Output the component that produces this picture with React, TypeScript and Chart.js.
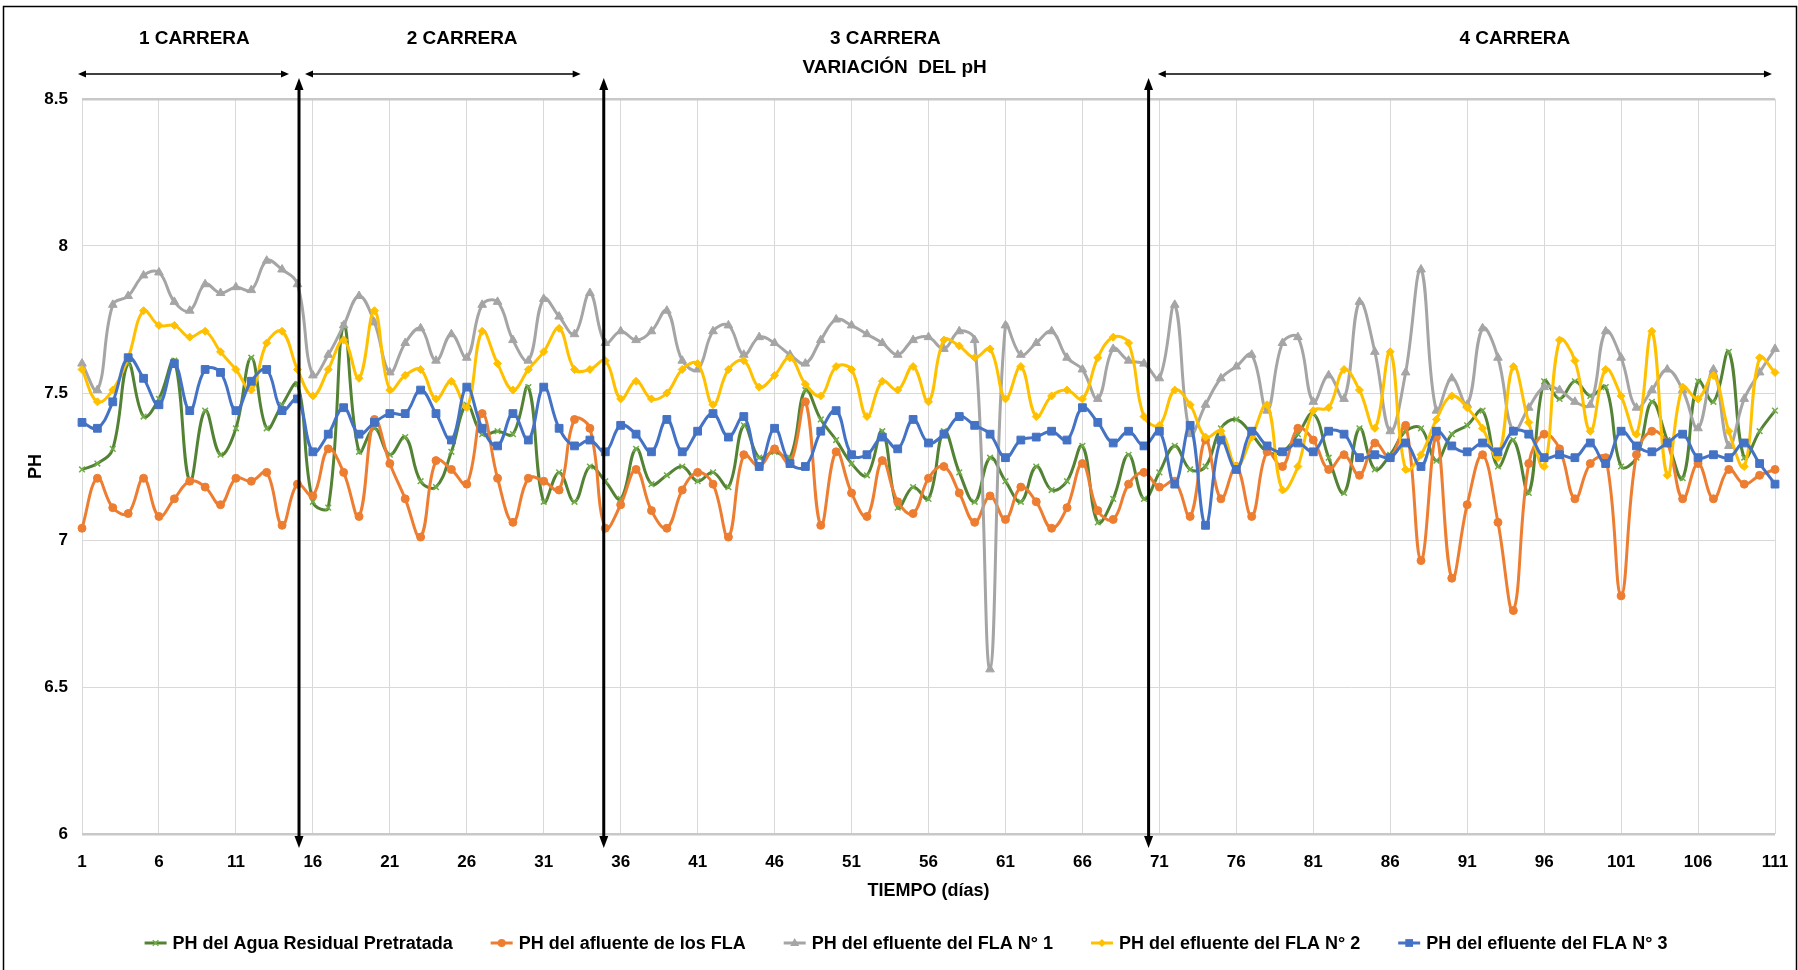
import React, { useEffect, useRef } from "react";
import { Chart, registerables } from "chart.js";

Chart.register(...registerables);

// ---------- DATA ----------
const days: string[] = Array.from({ length: 111 }, (_, i) => String(i + 1));

const phAguaResidual = [
  7.24, 7.26, 7.31, 7.6, 7.42, 7.48, 7.61, 7.2, 7.44, 7.29,
  7.38, 7.62, 7.38, 7.46, 7.53, 7.13, 7.11, 7.73, 7.3, 7.38,
  7.29, 7.35, 7.2, 7.18, 7.3, 7.46, 7.36, 7.37, 7.36, 7.52,
  7.13, 7.23, 7.13, 7.25, 7.2, 7.14, 7.31, 7.19, 7.22, 7.25,
  7.2, 7.23, 7.18, 7.39, 7.28, 7.3, 7.28, 7.51, 7.41, 7.34,
  7.26, 7.22, 7.37, 7.11, 7.18, 7.14, 7.37, 7.23, 7.13, 7.28,
  7.2, 7.13, 7.25, 7.17, 7.2, 7.32, 7.06, 7.14, 7.29, 7.14,
  7.23, 7.32, 7.24, 7.25, 7.38, 7.41, 7.36, 7.3, 7.3, 7.36,
  7.43, 7.28, 7.16, 7.38, 7.24, 7.29, 7.37, 7.38, 7.27, 7.36,
  7.39, 7.44, 7.25, 7.34, 7.16, 7.54, 7.48, 7.54, 7.49, 7.52,
  7.25, 7.28, 7.47, 7.34, 7.21, 7.54, 7.47, 7.64, 7.28, 7.37,
  7.44,
];

const phAfluente = [
  7.04, 7.21, 7.11, 7.09, 7.21, 7.08, 7.14, 7.2, 7.18, 7.12,
  7.21, 7.2, 7.23, 7.05, 7.19, 7.15, 7.31, 7.23, 7.08, 7.41,
  7.26, 7.14, 7.01, 7.27, 7.24, 7.19, 7.43, 7.21, 7.06, 7.21,
  7.2, 7.17, 7.41, 7.38, 7.04, 7.12, 7.24, 7.1, 7.04, 7.17,
  7.23, 7.19, 7.01, 7.29, 7.25, 7.31, 7.26, 7.47, 7.05, 7.3,
  7.16, 7.08, 7.27, 7.13, 7.09, 7.21, 7.25, 7.16, 7.06, 7.15,
  7.07, 7.18, 7.13, 7.04, 7.11, 7.26, 7.1, 7.07, 7.19, 7.23,
  7.18, 7.2, 7.08, 7.34, 7.14, 7.25, 7.08, 7.3, 7.25, 7.38,
  7.34, 7.24, 7.29, 7.22, 7.33, 7.28, 7.39, 6.93, 7.35, 6.87,
  7.12, 7.29, 7.06, 6.76, 7.26, 7.36, 7.31, 7.14, 7.26, 7.28,
  6.81, 7.29, 7.37, 7.33, 7.14, 7.26, 7.14, 7.24, 7.19, 7.22,
  7.24,
];

const phEfluente1 = [
  7.6, 7.51, 7.8, 7.83, 7.9, 7.91, 7.81, 7.78, 7.87, 7.84,
  7.86, 7.85, 7.95, 7.92, 7.87, 7.56, 7.63, 7.73, 7.83, 7.74,
  7.57, 7.67, 7.72, 7.61, 7.7, 7.62, 7.8, 7.81, 7.68, 7.61,
  7.82, 7.76, 7.7, 7.84, 7.67, 7.71, 7.68, 7.71, 7.78, 7.61,
  7.58, 7.71, 7.73, 7.63, 7.69, 7.67, 7.63, 7.6, 7.68, 7.75,
  7.73, 7.7, 7.67, 7.63, 7.68, 7.69, 7.65, 7.71, 7.68, 6.56,
  7.73, 7.63, 7.67, 7.71, 7.62, 7.58, 7.48, 7.65, 7.61, 7.6,
  7.55, 7.8, 7.36, 7.46, 7.55, 7.59, 7.63, 7.44, 7.67, 7.69,
  7.47, 7.56, 7.48, 7.81, 7.64, 7.37, 7.57, 7.92, 7.44, 7.55,
  7.46, 7.72, 7.62, 7.37, 7.45, 7.52, 7.51, 7.47, 7.46, 7.71,
  7.62, 7.45, 7.51, 7.58, 7.51, 7.38, 7.58, 7.32, 7.48, 7.57,
  7.65,
];

const phEfluente2 = [
  7.58, 7.47, 7.51, 7.62, 7.78, 7.73, 7.73, 7.69, 7.71, 7.64,
  7.58, 7.51, 7.67, 7.71, 7.58, 7.49, 7.58, 7.68, 7.55, 7.78,
  7.51, 7.56, 7.58, 7.48, 7.54, 7.45, 7.71, 7.6, 7.51, 7.58,
  7.64, 7.72, 7.58, 7.58, 7.61, 7.48, 7.54, 7.48, 7.5, 7.58,
  7.6, 7.46, 7.58, 7.61, 7.52, 7.56, 7.62, 7.53, 7.49, 7.59,
  7.58, 7.42, 7.54, 7.51, 7.59, 7.47, 7.68, 7.66, 7.62, 7.65,
  7.48, 7.59, 7.42, 7.49, 7.51, 7.48, 7.62, 7.69, 7.67, 7.42,
  7.39, 7.51, 7.46, 7.35, 7.37, 7.25, 7.35, 7.46, 7.17, 7.25,
  7.44, 7.45, 7.58, 7.51, 7.38, 7.64, 7.24, 7.29, 7.41, 7.49,
  7.45, 7.38, 7.28, 7.59, 7.4, 7.25, 7.68, 7.61, 7.37, 7.58,
  7.49, 7.36, 7.71, 7.22, 7.52, 7.48, 7.56, 7.37, 7.25, 7.62,
  7.57,
];

const phEfluente3 = [
  7.4, 7.38, 7.47, 7.62, 7.55, 7.46, 7.6, 7.44, 7.58, 7.57,
  7.44, 7.54, 7.58, 7.44, 7.48, 7.3, 7.36, 7.45, 7.36, 7.4,
  7.43, 7.43, 7.51, 7.43, 7.34, 7.52, 7.38, 7.32, 7.43, 7.34,
  7.52, 7.38, 7.32, 7.34, 7.3, 7.39, 7.36, 7.3, 7.41, 7.3,
  7.37, 7.43, 7.35, 7.42, 7.25, 7.38, 7.26, 7.25, 7.37, 7.44,
  7.29, 7.29, 7.35, 7.31, 7.41, 7.33, 7.36, 7.42, 7.39, 7.36,
  7.28, 7.34, 7.35, 7.37, 7.34, 7.45, 7.4, 7.33, 7.37, 7.32,
  7.37, 7.19, 7.39, 7.05, 7.34, 7.24, 7.37, 7.32, 7.3, 7.33,
  7.3, 7.37, 7.36, 7.28, 7.29, 7.28, 7.33, 7.25, 7.37, 7.32,
  7.3, 7.33, 7.3, 7.37, 7.36, 7.28, 7.29, 7.28, 7.33, 7.26,
  7.37, 7.32, 7.3, 7.33, 7.36, 7.28, 7.29, 7.28, 7.33, 7.26,
  7.19,
];

const seriesNames = [
  "PH del Agua Residual Pretratada",
  "PH del afluente de los FLA",
  "PH del efluente del FLA N° 1",
  "PH del efluente del FLA N° 2",
  "PH del efluente del FLA N° 3",
];

const yTickValues = [6, 6.5, 7, 7.5, 8, 8.5];
const xLabelEvery = 5;

const phaseLabels = ["1 CARRERA", "2 CARRERA", "3 CARRERA", "4 CARRERA"];
const phaseLabelDays = [8.3, 25.7, 53.2, 94.1];
const phaseBoundaryDays = [15.1, 34.9, 70.3];
const phaseSpanDays = [
  [0.74, 14.45],
  [15.49, 33.4],
  [70.9, 110.8],
];
const chartTitle = "VARIACIÓN  DEL pH";
const chartTitleDay = 53.8;
const xTitle = "TIEMPO (días)";
const yTitle = "PH";

// ---------- STYLE ----------
const FONT = "'Liberation Sans Narrow', 'Arial Narrow', 'Liberation Sans', Arial, sans-serif";

const seriesStyles = [
  { line: "#548235", point: "#70AD47", shape: "crossRot", r: 4, pbw: 1.5 },
  { line: "#ED7D31", point: "#ED7D31", shape: "circle", r: 4, pbw: 1 },
  { line: "#A5A5A5", point: "#A5A5A5", shape: "triangle", r: 5, pbw: 1 },
  { line: "#FFC000", point: "#FFC000", shape: "rectRot", r: 4, pbw: 1 },
  { line: "#4472C4", point: "#4472C4", shape: "rect", r: 5.5, pbw: 1 },
];

const seriesData = [phAguaResidual, phAfluente, phEfluente1, phEfluente2, phEfluente3];

function drawMarker(ctx: CanvasRenderingContext2D, shape: string, x: number, y: number, r: number, color: string, lw: number) {
  ctx.save();
  ctx.fillStyle = color;
  ctx.strokeStyle = color;
  ctx.lineWidth = lw;
  ctx.beginPath();
  if (shape === "circle") {
    ctx.arc(x, y, r, 0, Math.PI * 2);
    ctx.fill();
  } else if (shape === "triangle") {
    ctx.moveTo(x, y - r);
    ctx.lineTo(x + r * 0.9, y + r * 0.6);
    ctx.lineTo(x - r * 0.9, y + r * 0.6);
    ctx.closePath();
    ctx.fill();
  } else if (shape === "rectRot") {
    ctx.moveTo(x, y - r);
    ctx.lineTo(x + r, y);
    ctx.lineTo(x, y + r);
    ctx.lineTo(x - r, y);
    ctx.closePath();
    ctx.fill();
  } else if (shape === "rect") {
    const s = r * Math.SQRT1_2;
    ctx.rect(x - s, y - s, 2 * s, 2 * s);
    ctx.fill();
  } else if (shape === "crossRot") {
    const s = r * Math.SQRT1_2;
    ctx.moveTo(x - s, y - s);
    ctx.lineTo(x + s, y + s);
    ctx.moveTo(x + s, y - s);
    ctx.lineTo(x - s, y + s);
    ctx.stroke();
  }
  ctx.restore();
}

function arrowHead(ctx: CanvasRenderingContext2D, x: number, y: number, dx: number, dy: number, len: number, half: number) {
  const px = -dy, py = dx;
  ctx.beginPath();
  ctx.moveTo(x, y);
  ctx.lineTo(x - dx * len + px * half, y - dy * len + py * half);
  ctx.lineTo(x - dx * len - px * half, y - dy * len - py * half);
  ctx.closePath();
  ctx.fill();
}

const decorPlugin = {
  id: "decor",
  afterDraw(chart: any) {
    const { ctx, chartArea: ca, scales } = chart;
    const xs = scales.x;
    const p0 = xs.getPixelForValue(0);
    const p1 = xs.getPixelForValue(1);
    const dayX = (d: number) => p0 + (d - 1) * (p1 - p0);
    ctx.save();

    // outer frame
    ctx.strokeStyle = "#000";
    ctx.lineWidth = 1.5;
    ctx.strokeRect(3.5, 6.5, chart.width - 5, chart.height + 10);

    ctx.fillStyle = "#000";
    // vertical phase boundary arrows
    for (const d of phaseBoundaryDays) {
      const x = dayX(d);
      const y1 = ca.top - 21;
      const y2 = ca.bottom + 14;
      ctx.lineWidth = 3;
      ctx.beginPath();
      ctx.moveTo(x, y1 + 8);
      ctx.lineTo(x, y2 - 8);
      ctx.stroke();
      arrowHead(ctx, x, y1, 0, -1, 12, 4.5);
      arrowHead(ctx, x, y2, 0, 1, 12, 4.5);
    }

    // horizontal span arrows
    const ys = ca.top - 25;
    ctx.lineWidth = 1.5;
    for (const [a, b] of phaseSpanDays) {
      const xa = dayX(a);
      const xb = dayX(b);
      ctx.beginPath();
      ctx.moveTo(xa + 5, ys);
      ctx.lineTo(xb - 5, ys);
      ctx.stroke();
      arrowHead(ctx, xa, ys, -1, 0, 8, 3.5);
      arrowHead(ctx, xb, ys, 1, 0, 8, 3.5);
    }

    // phase labels and title
    ctx.font = `bold 19px ${FONT}`;
    ctx.textAlign = "center";
    ctx.textBaseline = "middle";
    phaseLabels.forEach((t, i) => ctx.fillText(t, dayX(phaseLabelDays[i]), ca.top - 60));
    ctx.fillText(chartTitle, dayX(chartTitleDay), ca.top - 31);

    // legend
    ctx.font = `bold 18px ${FONT}`;
    const markW = 22;
    const textGap = 6;
    const itemGap = 38;
    const widths = seriesNames.map((n) => ctx.measureText(n).width);
    const total = widths.reduce((s, w) => s + markW + textGap + w, 0) + itemGap * (seriesNames.length - 1);
    let x = 906 - total / 2;
    const ly = chart.height - 27;
    ctx.textAlign = "left";
    seriesNames.forEach((n, i) => {
      const st = seriesStyles[i];
      ctx.strokeStyle = st.line;
      ctx.lineWidth = 3;
      ctx.beginPath();
      ctx.moveTo(x, ly);
      ctx.lineTo(x + markW, ly);
      ctx.stroke();
      drawMarker(ctx, st.shape, x + markW / 2, ly, st.r, st.point, st.pbw);
      ctx.fillStyle = "#000";
      ctx.fillText(n, x + markW + textGap, ly + 1);
      x += markW + textGap + widths[i] + itemGap;
    });
    ctx.restore();
  },
};

export default function App() {
  const ref = useRef<HTMLCanvasElement | null>(null);

  useEffect(() => {
    document.body.style.margin = "0";
    const canvas = ref.current;
    if (!canvas) return;

    const datasets = seriesData.map((data, i) => {
      const st = seriesStyles[i];
      return {
        label: seriesNames[i],
        data,
        borderColor: st.line,
        backgroundColor: st.point,
        pointBackgroundColor: st.point,
        pointBorderColor: st.point,
        pointStyle: st.shape,
        pointRadius: st.r,
        pointBorderWidth: st.pbw,
        borderWidth: 3,
        tension: 0.4,
        order: seriesData.length - i,
      };
    });

    const chart = new Chart(canvas, {
      type: "line",
      data: { labels: days, datasets },
      plugins: [decorPlugin],
      options: {
        animation: false,
        responsive: false,
        devicePixelRatio: 1,
        layout: { padding: { left: 0, right: 23, top: 99, bottom: 50 } },
        plugins: {
          legend: { display: false },
          tooltip: { enabled: false },
          title: { display: false },
        },
        scales: {
          x: {
            type: "category",
            offset: false,
            afterFit: (s: any) => {
              s.height = 86;
              s.paddingLeft = 0;
              s.paddingRight = 0;
            },
            border: { display: false },
            grid: {
              drawTicks: false,
              color: (c: any) => (c.index % xLabelEvery === 0 ? "#D9D9D9" : "rgba(0,0,0,0)"),
              lineWidth: 1,
            },
            ticks: {
              autoSkip: false,
              maxRotation: 0,
              minRotation: 0,
              padding: 18,
              color: "#000",
              font: { family: FONT, size: 17, weight: "bold" },
              callback: (_v: any, i: number) => (i % xLabelEvery === 0 ? days[i] : ""),
            },
            title: {
              display: true,
              text: xTitle,
              color: "#000",
              font: { family: FONT, size: 18, weight: "bold" },
              padding: { top: 0, bottom: 18 },
            },
          },
          y: {
            min: yTickValues[0],
            max: yTickValues[yTickValues.length - 1],
            afterFit: (s: any) => {
              s.width = 82;
              s.paddingTop = 0;
              s.paddingBottom = 0;
            },
            afterBuildTicks: (s: any) => {
              s.ticks = yTickValues.map((v) => ({ value: v }));
            },
            border: { display: false },
            grid: {
              drawTicks: false,
              color: (c: any) =>
                c.tick && (c.tick.value === 6 || c.tick.value === 8.5) ? "#C8C8C8" : "#D9D9D9",
              lineWidth: (c: any) =>
                c.tick && (c.tick.value === 6 || c.tick.value === 8.5) ? 2.5 : 1,
            },
            ticks: {
              padding: 14,
              color: "#000",
              font: { family: FONT, size: 17, weight: "bold" },
              callback: (v: any) => String(v),
            },
            title: {
              display: true,
              text: yTitle,
              color: "#000",
              font: { family: FONT, size: 18, weight: "bold" },
              padding: { top: 25, bottom: 0 },
            },
          },
        },
      } as any,
    });

    return () => chart.destroy();
  }, []);

  return (
    <div style={{ width: 1798, height: 970, position: "relative", background: "#fff" }}>
      <canvas ref={ref} width={1798} height={970} style={{ display: "block" }} />
    </div>
  );
}
